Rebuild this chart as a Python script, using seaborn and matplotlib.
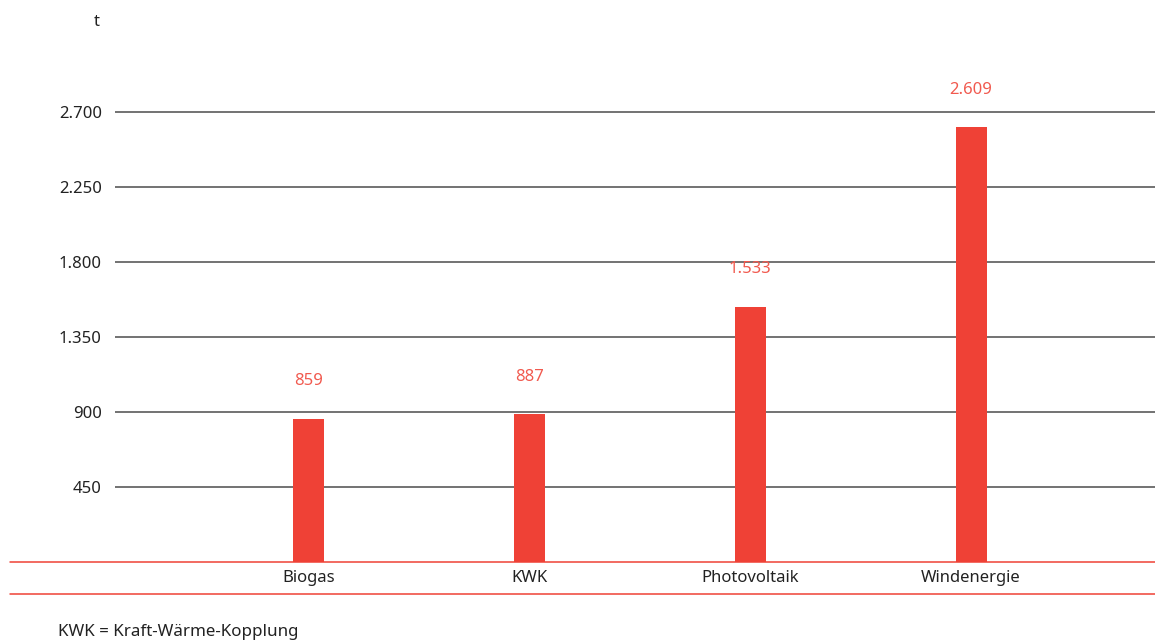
import matplotlib
matplotlib.use("Agg")
import matplotlib.pyplot as plt
import pandas as pd
import seaborn as sns

# Daten
kategorien = ["Biogas", "KWK", "Photovoltaik", "Windenergie"]
werte = [859, 887, 1533, 2609]
y_ticks = [450, 900, 1350, 1800, 2250, 2700]
y_tick_labels = ["450", "900", "1.350", "1.800", "2.250", "2.700"]
einheit = "t"
fussnote = "KWK = Kraft-Wärme-Kopplung"

ROT = "#ef4136"
ROT_TEXT = "#f15a4f"
GRAU = "#5a5a5a"

sns.set_style("white")
plt.rcParams["font.family"] = ["Noto Sans", "DejaVu Sans"]

df = pd.DataFrame({"kategorie": kategorien, "wert": werte})

fig = plt.figure(figsize=(11.55, 6.42), dpi=100)
ax = fig.add_axes([115 / 1155, 80 / 642, 1040 / 1155, 522 / 642])

sns.barplot(data=df, x="kategorie", y="wert", color=ROT, width=0.14,
            saturation=1, linewidth=0, ax=ax, zorder=3)

ax.set_xlim(-0.878, 3.833)
ax.set_ylim(0, 522 * 6)

# Gitterlinien
for t in y_ticks:
    ax.axhline(t, color=GRAU, lw=1.2, zorder=1)

# Rote Linien unten (reichen weiter nach links)
x0 = (10 - 115) / 1040
ax.plot([x0, 1], [0, 0], transform=ax.transAxes, color=ROT, lw=1.1,
        clip_on=False, zorder=4)
ax.plot([x0, 1], [-32 / 522, -32 / 522], transform=ax.transAxes, color=ROT,
        lw=1.1, clip_on=False, zorder=4)

ax.set_yticks(y_ticks)
ax.set_yticklabels(y_tick_labels)
ax.tick_params(axis="y", length=0, pad=9.5, labelsize=12, labelcolor="#222222")
ax.tick_params(axis="x", length=0, pad=6, labelsize=12, labelcolor="#222222")
ax.set_xlabel("")
ax.set_ylabel("")
for s in ax.spines.values():
    s.set_visible(False)

# Wertbeschriftungen
for i, v in enumerate(werte):
    label = f"{v:,}".replace(",", ".")
    ax.annotate(label, (i, v), xytext=(0, 27), textcoords="offset points",
                ha="center", va="center", color=ROT_TEXT, fontsize=12)

fig.text(97 / 1155, 1 - 22 / 642, einheit, ha="center", va="center",
         fontsize=12, color="#222222")
fig.text(58 / 1155, 1 - 632 / 642, fussnote, ha="left", va="center",
         fontsize=12.2, color="#222222")

fig.savefig("out.png", dpi=100)
